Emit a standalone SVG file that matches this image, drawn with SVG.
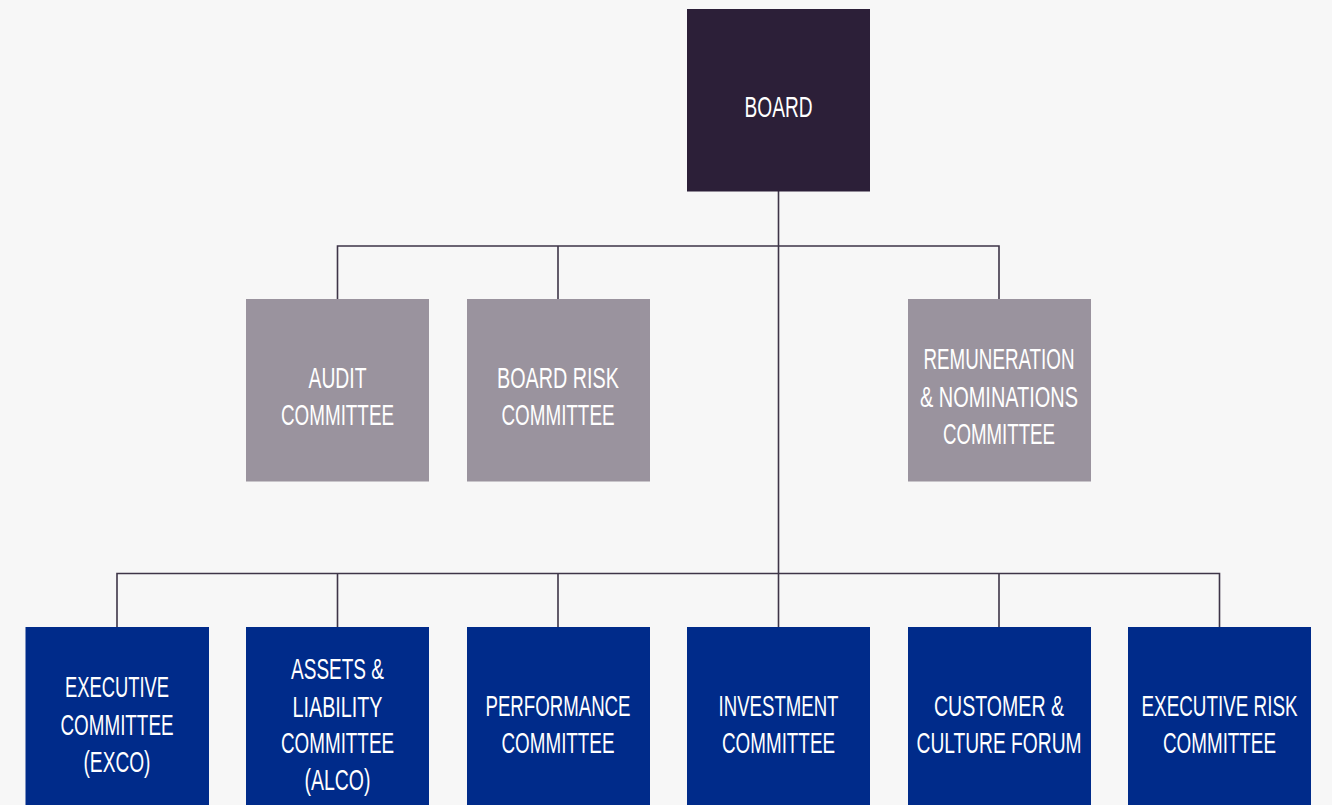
<svg xmlns="http://www.w3.org/2000/svg" width="1332" height="805" viewBox="0 0 1332 805">
  <style>
    .bg { fill: #f7f7f7; }
    .board { fill: #2c1f38; }
    .sub { fill: #9a939e; }
    .exec { fill: #002b8a; }
    .lbl { font-family: "Liberation Sans Narrow", "Liberation Sans", "DejaVu Sans Condensed", sans-serif; font-size: 30px; fill: #ffffff; text-anchor: middle; }
    .wire { fill: none; stroke: #3e3548; stroke-width: 1.6; }
  </style>

  <rect class="bg" x="0" y="0" width="1332" height="805"/>

  <!-- connectors -->
  <g id="connectors">
    <path class="wire" d="M778.5 191 V627"/>
    <path class="wire" d="M337.5 299 V246 H999 V299 M558 246 V299"/>
    <path class="wire" d="M117 627 V573.5 H1219.5 V627 M337.5 573.5 V627 M558 573.5 V627 M999 573.5 V627"/>
  </g>

  <!-- labels are drawn in a horizontally condensed frame centred on each box -->

  <!-- top: board -->
  <g id="board">
    <rect class="board" x="687" y="9" width="183" height="182.5"/>
    <g transform="translate(778.5 0) scale(0.78 1)">
      <text class="lbl" x="0" y="117" textLength="87.2" lengthAdjust="spacingAndGlyphs">BOARD</text>
    </g>
  </g>

  <!-- board committees -->
  <g id="audit-committee">
    <rect class="sub" x="246" y="299" width="183" height="182.5"/>
    <g transform="translate(337.5 0) scale(0.78 1)">
      <text class="lbl" x="0" y="388" textLength="74.4" lengthAdjust="spacingAndGlyphs">AUDIT</text>
      <text class="lbl" x="0" y="425" textLength="144.9" lengthAdjust="spacingAndGlyphs">COMMITTEE</text>
    </g>
  </g>
  <g id="board-risk-committee">
    <rect class="sub" x="467" y="299" width="183" height="182.5"/>
    <g transform="translate(558 0) scale(0.78 1)">
      <text class="lbl" x="0" y="388" textLength="156.4" lengthAdjust="spacingAndGlyphs">BOARD RISK</text>
      <text class="lbl" x="0" y="425" textLength="144.9" lengthAdjust="spacingAndGlyphs">COMMITTEE</text>
    </g>
  </g>
  <g id="remuneration-nominations-committee">
    <rect class="sub" x="908" y="299" width="183" height="182.5"/>
    <g transform="translate(999 0) scale(0.65 1)">
      <text class="lbl" x="0" y="369" textLength="232.3" lengthAdjust="spacingAndGlyphs">REMUNERATION</text>
      <text class="lbl" x="0" y="407" textLength="243.1" lengthAdjust="spacingAndGlyphs">&amp; NOMINATIONS</text>
      <text class="lbl" x="0" y="444" textLength="172.3" lengthAdjust="spacingAndGlyphs">COMMITTEE</text>
    </g>
  </g>

  <!-- executive committees -->
  <g id="executive-committee">
    <rect class="exec" x="25.5" y="627" width="183.5" height="183"/>
    <g transform="translate(117 0) scale(0.78 1)">
      <text class="lbl" x="0" y="697" textLength="133.3" lengthAdjust="spacingAndGlyphs">EXECUTIVE</text>
      <text class="lbl" x="0" y="735" textLength="144.9" lengthAdjust="spacingAndGlyphs">COMMITTEE</text>
      <text class="lbl" x="0" y="772" textLength="85.9" lengthAdjust="spacingAndGlyphs">(EXCO)</text>
    </g>
  </g>
  <g id="alco">
    <rect class="exec" x="246" y="627" width="183" height="183"/>
    <g transform="translate(337.5 0) scale(0.78 1)">
      <text class="lbl" x="0" y="679" textLength="119.2" lengthAdjust="spacingAndGlyphs">ASSETS &amp;</text>
      <text class="lbl" x="0" y="717" textLength="115.4" lengthAdjust="spacingAndGlyphs">LIABILITY</text>
      <text class="lbl" x="0" y="753" textLength="144.9" lengthAdjust="spacingAndGlyphs">COMMITTEE</text>
      <text class="lbl" x="0" y="790" textLength="84.6" lengthAdjust="spacingAndGlyphs">(ALCO)</text>
    </g>
  </g>
  <g id="performance-committee">
    <rect class="exec" x="467" y="627" width="183" height="183"/>
    <g transform="translate(558 0) scale(0.65 1)">
      <text class="lbl" x="0" y="716" textLength="223.1" lengthAdjust="spacingAndGlyphs">PERFORMANCE</text>
      <text class="lbl" x="0" y="753" textLength="173.8" lengthAdjust="spacingAndGlyphs">COMMITTEE</text>
    </g>
  </g>
  <g id="investment-committee">
    <rect class="exec" x="687" y="627" width="183" height="183"/>
    <g transform="translate(778.5 0) scale(0.78 1)">
      <text class="lbl" x="0" y="716" textLength="153.8" lengthAdjust="spacingAndGlyphs">INVESTMENT</text>
      <text class="lbl" x="0" y="753" textLength="144.9" lengthAdjust="spacingAndGlyphs">COMMITTEE</text>
    </g>
  </g>
  <g id="customer-culture-forum">
    <rect class="exec" x="908" y="627" width="183" height="183"/>
    <g transform="translate(999 0) scale(0.6 1)">
      <text class="lbl" x="0" y="716" textLength="216.7" lengthAdjust="spacingAndGlyphs">CUSTOMER &amp;</text>
      <text class="lbl" x="0" y="753" textLength="275" lengthAdjust="spacingAndGlyphs">CULTURE FORUM</text>
    </g>
  </g>
  <g id="executive-risk-committee">
    <rect class="exec" x="1128" y="627" width="183" height="183"/>
    <g transform="translate(1219.5 0) scale(0.65 1)">
      <text class="lbl" x="0" y="716" textLength="240" lengthAdjust="spacingAndGlyphs">EXECUTIVE RISK</text>
      <text class="lbl" x="0" y="753" textLength="173.8" lengthAdjust="spacingAndGlyphs">COMMITTEE</text>
    </g>
  </g>
</svg>
